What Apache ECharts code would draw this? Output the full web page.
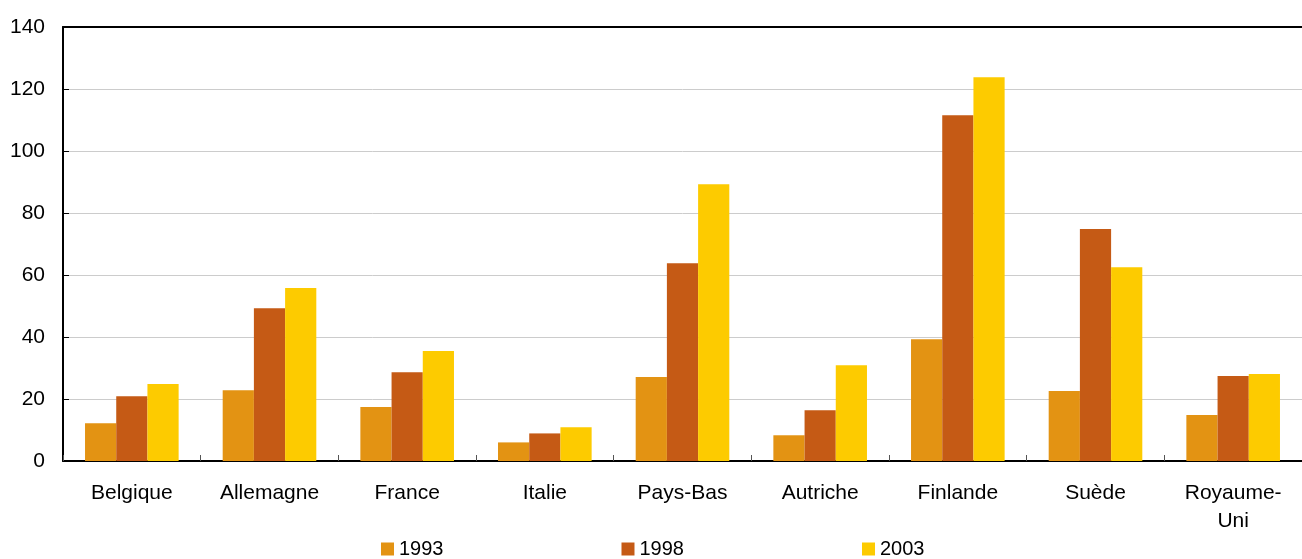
<!DOCTYPE html>
<html><head><meta charset="utf-8">
<script src="https://cdn.jsdelivr.net/npm/echarts@6/dist/echarts.min.js"></script>
<style>html,body{margin:0;padding:0;background:#fff}#c{width:1302px;height:559px}</style>
</head><body><div id="c"></div>
<script>
const categories = ['Belgique','Allemagne','France','Italie','Pays-Bas','Autriche','Finlande','Suède','Royaume-\nUni'];
const s1993 = [12.2, 22.8, 17.4, 6.0, 27.1, 8.3, 39.3, 22.6, 14.8];
const s1998 = [20.9, 49.3, 28.6, 8.9, 63.8, 16.4, 111.5, 74.8, 27.4];
const s2003 = [24.8, 55.8, 35.5, 10.9, 89.3, 30.9, 123.8, 62.5, 28.1];
const yTicks = [0, 20, 40, 60, 80, 100, 120, 140];
const font = 'Liberation Sans, Arial, sans-serif';
const chart = echarts.init(document.getElementById('c'), null, {renderer:'canvas'});
chart.setOption({
  animation:false,
  textStyle:{fontFamily:font},
  grid:{left:63, right:0, top:27, bottom:98},
  legend:{
    top:534, left:376, itemWidth:13, itemHeight:13, itemGap:178,
    icon:'rect', padding:5,
    textStyle:{fontFamily:font, fontSize:20, color:'#000', padding:[0,0,0,0]},
    data:['1993','1998','2003']
  },
  xAxis:[{
    type:'category', data:categories,
    axisLine:{lineStyle:{color:'#000', width:2}},
    axisTick:{show:true, inside:true, length:6, lineStyle:{color:'#555'}},
    axisLabel:{fontFamily:font, fontSize:21, color:'#000', margin:18, lineHeight:28}
  },{
    type:'category', data:categories, position:'top',
    axisLine:{lineStyle:{color:'#000', width:2}},
    axisTick:{show:false}, axisLabel:{show:false}
  }],
  yAxis:{
    type:'value', min:yTicks[0], max:yTicks[yTicks.length-1], interval:20,
    axisLine:{show:true, lineStyle:{color:'#000', width:2}},
    axisTick:{show:true, inside:true, length:6, lineStyle:{color:'#000'}},
    axisLabel:{fontFamily:font, fontSize:21, color:'#000', margin:18},
    splitLine:{lineStyle:{color:'#cccccc'}}
  },
  series:[
    {name:'1993', type:'bar', data:s1993, itemStyle:{color:'#E39313'}, barGap:'0%', barCategoryGap:'32%'},
    {name:'1998', type:'bar', data:s1998, itemStyle:{color:'#C55A15'}, barGap:'0%', barCategoryGap:'32%'},
    {name:'2003', type:'bar', data:s2003, itemStyle:{color:'#FDCB00'}, barGap:'0%', barCategoryGap:'32%'}
  ]
});
</script></body></html>
